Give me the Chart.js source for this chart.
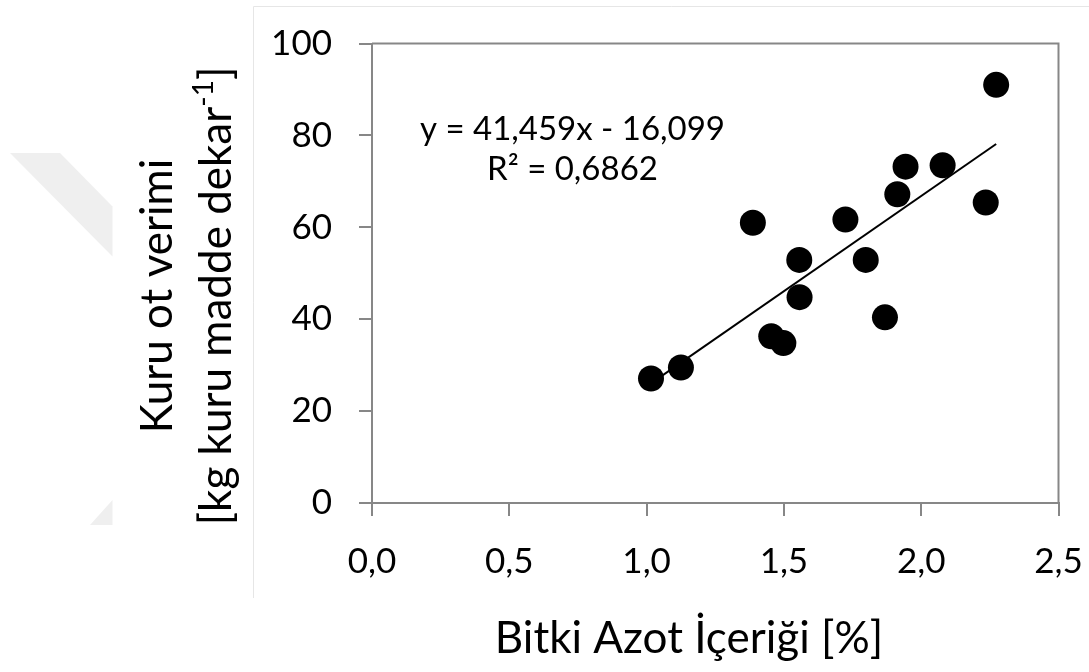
<!DOCTYPE html>
<html>
<head>
<meta charset="utf-8">
<script src="https://cdn.jsdelivr.net/npm/chart.js@4.4.1/dist/chart.umd.min.js"></script>
<style>
  html, body { margin: 0; padding: 0; background: #fff; }
  canvas { display: block; }
</style>
</head>
<body>
<canvas id="grafik" width="1089" height="672"></canvas>
<script>
// bitki azot içeriği (%) ve kuru ot verimi (kg kuru madde / dekar)
const azot  = [1.016, 1.125, 1.387, 1.454, 1.498, 1.556, 1.557, 1.724, 1.798, 1.868, 1.913, 1.943, 2.078, 2.235, 2.273];
const verim = [27.1, 29.5, 61.0, 36.3, 34.8, 52.9, 44.8, 61.7, 52.9, 40.4, 67.2, 73.2, 73.5, 65.4, 91.0];

const xTicks = [0, 0.5, 1.0, 1.5, 2.0, 2.5];
const yTicks = [0, 20, 40, 60, 80, 100];

// doğrusal regresyon sonucu
const egim = 41.459;
const sabit = -16.099;
const r2 = 0.6862;

const FONT = 'Lato, "Open Sans", sans-serif';
const GRI = '#878787';

const virgul = v => String(v).replace('.', ',');

// trend çizgisi en küçük ve en büyük x arasında
const xMin = Math.min(...azot);
const xMax = Math.max(...azot);
const trend = [xMin, xMax].map(x => ({ x: x, y: egim * x + sabit }));

const noktalar = azot.map((x, i) => ({ x: x, y: verim[i] }));

const cerceve = {
  id: 'cerceve',
  beforeDraw(chart) {
    const ctx = chart.ctx;
    ctx.save();
    ctx.fillStyle = '#fff';
    ctx.fillRect(0, 0, chart.width, chart.height);

    // soluk filigran
    ctx.fillStyle = '#efefef';
    ctx.beginPath();
    ctx.moveTo(10, 153);
    ctx.lineTo(60, 153);
    ctx.lineTo(112.5, 206.5);
    ctx.lineTo(112.5, 256.5);
    ctx.closePath();
    ctx.fill();
    ctx.beginPath();
    ctx.moveTo(90, 525);
    ctx.lineTo(112.5, 500);
    ctx.lineTo(112.5, 525);
    ctx.closePath();
    ctx.fill();

    // grafik alanı kenarlığı
    ctx.strokeStyle = '#e6e6e6';
    ctx.lineWidth = 1;
    ctx.beginPath();
    ctx.moveTo(253.5, 598);
    ctx.lineTo(253.5, 6.5);
    ctx.lineTo(chart.width, 6.5);
    ctx.stroke();
    ctx.restore();
  },
  afterDatasetsDraw(chart) {
    const ctx = chart.ctx;
    const a = chart.chartArea;
    const xs = chart.scales.x;
    const ys = chart.scales.y;
    ctx.save();

    // üst ve sağ kenar
    ctx.strokeStyle = GRI;
    ctx.lineWidth = 2;
    ctx.beginPath();
    ctx.moveTo(a.left, a.top);
    ctx.lineTo(a.right, a.top);
    ctx.lineTo(a.right, a.bottom);
    ctx.stroke();

    // denklem ve R²
    ctx.fillStyle = '#000';
    ctx.textAlign = 'center';
    ctx.textBaseline = 'alphabetic';
    ctx.font = '33px ' + FONT;
    const ex = xs.getPixelForValue(0.73);
    const isaret = sabit < 0 ? ' - ' : ' + ';
    ctx.fillText('y = ' + virgul(egim) + 'x' + isaret + virgul(Math.abs(sabit)), ex, ys.getPixelForValue(79.0));
    ctx.fillText('R² = ' + virgul(r2), ex, ys.getPixelForValue(70.3));

    // eksen başlıkları
    ctx.font = '44px ' + FONT;
    ctx.fillText('Bitki Azot İçeriği [%]', 689, 653);

    ctx.translate(0, 296);
    ctx.rotate(-Math.PI / 2);
    ctx.fillText('Kuru ot verimi', 0, 171.5);

    const bas = '[kg kuru madde dekar';
    const ust = '-1';
    const son = ']';
    const wBas = ctx.measureText(bas).width;
    const wSon = ctx.measureText(son).width;
    ctx.font = '28px ' + FONT;
    const wUst = ctx.measureText(ust).width;
    const x0 = -(wBas + wUst + wSon) / 2;
    ctx.textAlign = 'left';
    ctx.font = '44px ' + FONT;
    ctx.fillText(bas, x0, 231);
    ctx.font = '28px ' + FONT;
    ctx.fillText(ust, x0 + wBas, 213);
    ctx.font = '44px ' + FONT;
    ctx.fillText(son, x0 + wBas + wUst, 231);
    ctx.restore();
  }
};

new Chart(document.getElementById('grafik'), {
  type: 'scatter',
  data: {
    datasets: [
      {
        type: 'line',
        data: trend,
        borderColor: '#000',
        borderWidth: 2,
        pointRadius: 0,
        fill: false
      },
      {
        data: noktalar,
        pointRadius: 13,
        pointHoverRadius: 13,
        backgroundColor: '#000',
        borderWidth: 0
      }
    ]
  },
  options: {
    responsive: false,
    animation: false,
    devicePixelRatio: 1,
    layout: { padding: { left: 0, top: 43.5, right: 30.5, bottom: 0 } },
    plugins: {
      legend: { display: false },
      tooltip: { enabled: false }
    },
    scales: {
      x: {
        type: 'linear',
        min: 0,
        max: 2.5,
        afterFit(s) { s.height = 169; },
        afterBuildTicks(s) { s.ticks = xTicks.map(v => ({ value: v })); },
        border: { display: true, color: GRI, width: 2 },
        grid: { drawOnChartArea: false, drawTicks: true, tickLength: 13, color: GRI, lineWidth: 2 },
        ticks: {
          padding: 4,
          color: '#000',
          font: { family: FONT, size: 35, lineHeight: 2.4 },
          maxRotation: 0,
          callback: v => v.toFixed(1).replace('.', ',')
        }
      },
      y: {
        type: 'linear',
        min: 0,
        max: 100,
        afterFit(s) { s.width = 372; },
        afterBuildTicks(s) { s.ticks = yTicks.map(v => ({ value: v })); },
        border: { display: true, color: GRI, width: 2 },
        grid: { drawOnChartArea: false, drawTicks: true, tickLength: 13, color: GRI, lineWidth: 2 },
        ticks: {
          padding: 27,
          color: '#000',
          font: { family: FONT, size: 35, lineHeight: 0.9 },
          callback: v => String(v)
        }
      }
    }
  },
  plugins: [cerceve]
});
</script>
</body>
</html>
